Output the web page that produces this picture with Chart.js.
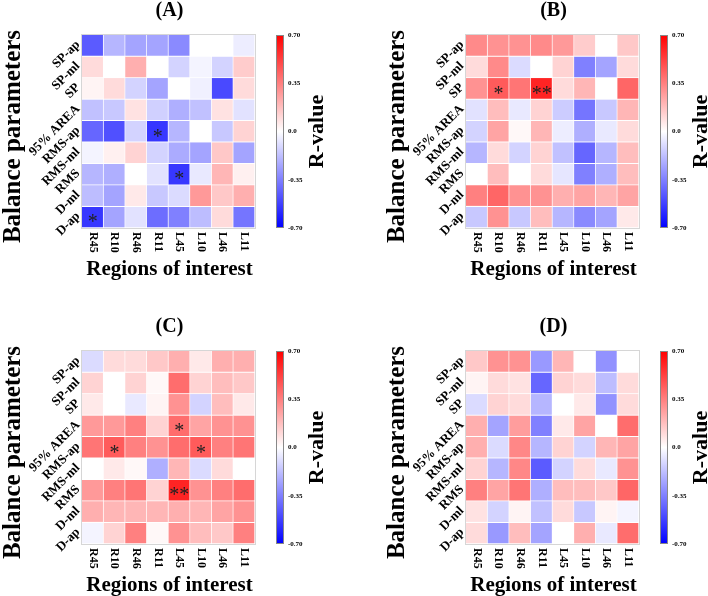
<!DOCTYPE html>
<html lang="en">
<head>
    <meta charset="UTF-8">
    <title>Balance parameters vs regions of interest</title>
    <script src="https://cdn.jsdelivr.net/npm/chart.js"></script>
    <style>
        html, body { margin: 0; padding: 0; overflow: hidden; background: #fff; }
        body { position: relative; width: 708px; height: 596px; }
        .panel { position: absolute; width: 384px; height: 316px; }
    </style>
</head>
<body>
    <div class="panel" style="left:0;top:0"><canvas id="chartA" width="384" height="316"></canvas></div>
    <div class="panel" style="left:384px;top:0"><canvas id="chartB" width="384" height="316"></canvas></div>
    <div class="panel" style="left:0;top:316px"><canvas id="chartC" width="384" height="316"></canvas></div>
    <div class="panel" style="left:384px;top:316px"><canvas id="chartD" width="384" height="316"></canvas></div>

    <script>
        // columns and rows of every panel
        const regions = ['R45', 'R10', 'R46', 'R11', 'L45', 'L10', 'L46', 'L11'];
        const params = ['SP-ap', 'SP-ml', 'SP', '95% AREA', 'RMS-ap', 'RMS-ml', 'RMS', 'D-ml', 'D-ap'];

        // colour bar
        const cbTicks = [0.7, 0.35, 0, -0.35, -0.7];
        const cbLabels = ['0.70', '0.35', '0.0', '-0.35', '-0.70'];

        // R-values, one row per balance parameter
        const rA = [
            [-0.45, -0.20, -0.25, -0.25, -0.32, 0.00, 0.00, -0.05],
            [0.10, 0.00, 0.22, 0.00, -0.12, -0.03, -0.12, 0.14],
            [0.03, 0.10, -0.12, -0.25, 0.00, -0.04, -0.50, 0.10],
            [-0.17, -0.15, 0.08, -0.13, -0.22, -0.17, 0.08, -0.08],
            [-0.42, -0.48, -0.12, -0.55, -0.20, 0.00, -0.15, 0.12],
            [-0.03, 0.04, 0.12, -0.12, -0.23, -0.25, 0.15, -0.25],
            [-0.20, -0.22, 0.00, -0.08, -0.55, -0.06, 0.20, 0.04],
            [-0.18, -0.25, 0.06, -0.15, -0.10, 0.28, 0.15, 0.22],
            [-0.55, -0.25, -0.08, -0.40, -0.35, -0.18, 0.10, -0.38]
        ];
        const rB = [
            [0.32, 0.30, 0.30, 0.32, 0.28, 0.14, 0.00, 0.15],
            [0.10, 0.32, -0.10, 0.00, 0.12, -0.35, -0.25, 0.10],
            [0.30, 0.45, 0.38, 0.60, 0.10, 0.20, 0.00, 0.42],
            [-0.08, 0.18, -0.06, 0.12, -0.14, -0.38, -0.15, 0.20],
            [-0.12, 0.25, 0.02, 0.20, -0.05, -0.22, -0.06, 0.10],
            [-0.20, 0.10, -0.12, 0.12, -0.17, -0.42, -0.20, 0.18],
            [0.00, 0.18, 0.00, 0.10, -0.07, -0.35, -0.22, 0.18],
            [0.35, 0.42, 0.30, 0.30, 0.22, 0.25, 0.20, 0.25],
            [-0.15, 0.30, -0.15, 0.18, -0.20, -0.32, -0.25, 0.06]
        ];
        const rC = [
            [-0.10, 0.10, 0.10, 0.15, 0.22, 0.06, 0.22, 0.22],
            [0.12, 0.00, 0.12, 0.02, 0.40, 0.12, 0.18, 0.15],
            [0.06, 0.00, -0.06, 0.03, 0.30, -0.12, 0.18, 0.06],
            [0.28, 0.28, 0.35, 0.12, 0.40, 0.25, 0.30, 0.30],
            [0.38, 0.45, 0.35, 0.30, 0.40, 0.45, 0.35, 0.38],
            [0.00, 0.06, 0.02, -0.22, 0.20, -0.10, 0.10, 0.00],
            [0.28, 0.35, 0.38, 0.12, 0.60, 0.30, 0.35, 0.40],
            [0.22, 0.20, 0.20, 0.20, 0.22, 0.20, 0.25, 0.30],
            [-0.03, 0.12, 0.35, 0.02, 0.30, 0.18, 0.15, 0.35]
        ];
        const rD = [
            [0.15, 0.30, 0.30, -0.28, 0.20, 0.00, -0.30, 0.00],
            [0.03, 0.10, 0.08, -0.42, 0.12, 0.10, -0.18, 0.10],
            [-0.10, 0.12, 0.10, -0.20, 0.00, 0.06, -0.30, 0.10],
            [0.22, -0.25, 0.27, -0.35, 0.06, 0.25, 0.00, 0.40],
            [0.22, -0.10, 0.33, -0.20, 0.12, -0.12, 0.20, 0.25],
            [0.12, -0.20, 0.33, -0.45, -0.12, 0.10, -0.06, 0.30],
            [0.35, 0.25, 0.38, -0.22, 0.18, 0.18, 0.15, 0.42],
            [0.08, -0.12, 0.03, -0.17, 0.10, -0.15, 0.03, -0.03],
            [0.10, -0.28, 0.18, -0.25, 0.00, 0.22, -0.06, 0.40]
        ];

        // significance marks: [parameter, region, mark]
        const starsA = [['RMS-ap', 'R11', '*'], ['RMS', 'L45', '*'], ['D-ap', 'R45', '*']];
        const starsB = [['SP', 'R10', '*'], ['SP', 'R11', '**']];
        const starsC = [['95% AREA', 'L45', '*'], ['RMS-ap', 'R10', '*'], ['RMS-ap', 'L10', '*'], ['RMS', 'L45', '**']];
        const starsD = [];

        const SERIF = '"Liberation Serif", "Times New Roman", serif';

        // blue-white-red map over -0.7 .. 0.7
        function rColor(v) {
            const t = Math.min(Math.abs(v) / 0.7, 1);
            const c = Math.round(255 * (1 - t));
            return v >= 0 ? `rgb(255,${c},${c})` : `rgb(${c},${c},255)`;
        }

        // draws titles, tick labels, colour bar and stars around the heatmap
        const decor = {
            id: 'decor',
            afterDraw(chart, args, opts) {
                const ctx = chart.ctx;
                const area = chart.chartArea;
                const xs = chart.scales.x, ys = chart.scales.y, cb = chart.scales.cb;
                const midX = (area.left + area.right) / 2;
                const midY = (area.top + area.bottom) / 2;
                ctx.save();
                ctx.fillStyle = '#000';

                // frame
                ctx.strokeStyle = '#d6d6d6';
                ctx.lineWidth = 1;
                ctx.strokeRect(area.left - 0.5, area.top - 0.5, area.right - area.left + 1, area.bottom - area.top + 1);

                // panel title
                ctx.font = 'bold 20px ' + SERIF;
                ctx.textAlign = 'center';
                ctx.textBaseline = 'middle';
                ctx.fillText(opts.title, midX + 1, area.top - 24);

                // x tick labels, turned clockwise
                ctx.font = 'bold 12px ' + SERIF;
                regions.forEach((r, i) => {
                    ctx.save();
                    ctx.translate(xs.getPixelForValue(i), area.bottom + 4);
                    ctx.rotate(Math.PI / 2);
                    ctx.textAlign = 'left';
                    ctx.textBaseline = 'middle';
                    ctx.fillText(r, 0, 0);
                    ctx.restore();
                });

                // y tick labels at 45 degrees
                ctx.font = 'bold 13px ' + SERIF;
                params.forEach((p, i) => {
                    ctx.save();
                    ctx.translate(area.left - 4, ys.getPixelForValue(i + 0.5) - 3);
                    ctx.rotate(-Math.PI / 4);
                    ctx.textAlign = 'right';
                    ctx.textBaseline = 'middle';
                    ctx.fillText(p, 0, 0);
                    ctx.restore();
                });

                // axis titles
                ctx.font = 'bold 21px ' + SERIF;
                ctx.textAlign = 'center';
                ctx.textBaseline = 'middle';
                ctx.fillText('Regions of interest', midX + 1, area.bottom + 42);

                ctx.save();
                ctx.translate(14, midY + 5);
                ctx.rotate(-Math.PI / 2);
                ctx.font = 'bold 25px ' + SERIF;
                ctx.fillText('Balance parameters', 0, 0);
                ctx.restore();

                // colour bar
                const barL = area.right + 21, barW = 8;
                const yTop = cb.getPixelForValue(cbTicks[0]);
                const yBot = cb.getPixelForValue(cbTicks[cbTicks.length - 1]);
                const grad = ctx.createLinearGradient(0, yTop, 0, yBot);
                grad.addColorStop(0, rColor(0.7));
                grad.addColorStop(0.5, rColor(0));
                grad.addColorStop(1, rColor(-0.7));
                ctx.fillStyle = grad;
                ctx.fillRect(barL, yTop, barW, yBot - yTop);
                ctx.strokeStyle = '#888';
                ctx.strokeRect(barL + 0.5, yTop + 0.5, barW - 1, yBot - yTop - 1);

                ctx.fillStyle = '#000';
                ctx.font = 'bold 7px ' + SERIF;
                ctx.textAlign = 'left';
                cbTicks.forEach((t, i) => {
                    ctx.fillText(cbLabels[i], barL + barW + 4, cb.getPixelForValue(t));
                });

                ctx.save();
                ctx.translate(area.right + 62, midY);
                ctx.rotate(-Math.PI / 2);
                ctx.font = 'bold 22px ' + SERIF;
                ctx.textAlign = 'center';
                ctx.fillText('R-value', 0, 0);
                ctx.restore();

                // significance stars
                ctx.font = '20px ' + SERIF;
                ctx.fillStyle = '#222';
                ctx.textAlign = 'center';
                ctx.textBaseline = 'alphabetic';
                opts.stars.forEach(([p, r, mark]) => {
                    const cx = xs.getPixelForValue(regions.indexOf(r));
                    const cy = ys.getPixelForValue(params.indexOf(p) + 0.5);
                    ctx.fillText(mark, cx, cy + 11);
                });

                ctx.restore();
            }
        };

        function renderPanel(id, title, values, stars) {
            const datasets = params.map((p, i) => ({
                label: p,
                data: regions.map(() => [i, i + 1]),
                backgroundColor: values[i].map(rColor),
                borderColor: '#ffffff',
                borderWidth: { top: 0, left: 0, right: 1, bottom: 1 },
                borderSkipped: false,
                grouped: false,
                barPercentage: 1,
                categoryPercentage: 1
            }));

            new Chart(document.getElementById(id).getContext('2d'), {
                type: 'bar',
                data: { labels: regions, datasets: datasets },
                plugins: [decor],
                options: {
                    responsive: false,
                    animation: false,
                    layout: { padding: { left: 82, top: 35, right: 129, bottom: 88 } },
                    scales: {
                        x: { type: 'category', display: false, offset: true },
                        y: { type: 'linear', display: false, min: 0, max: params.length, reverse: true },
                        cb: { type: 'linear', display: false, position: 'right', min: -0.7, max: 0.7 }
                    },
                    plugins: {
                        legend: { display: false },
                        tooltip: { enabled: false },
                        decor: { title: title, stars: stars }
                    }
                }
            });
        }

        renderPanel('chartA', '(A)', rA, starsA);
        renderPanel('chartB', '(B)', rB, starsB);
        renderPanel('chartC', '(C)', rC, starsC);
        renderPanel('chartD', '(D)', rD, starsD);
    </script>
</body>
</html>
